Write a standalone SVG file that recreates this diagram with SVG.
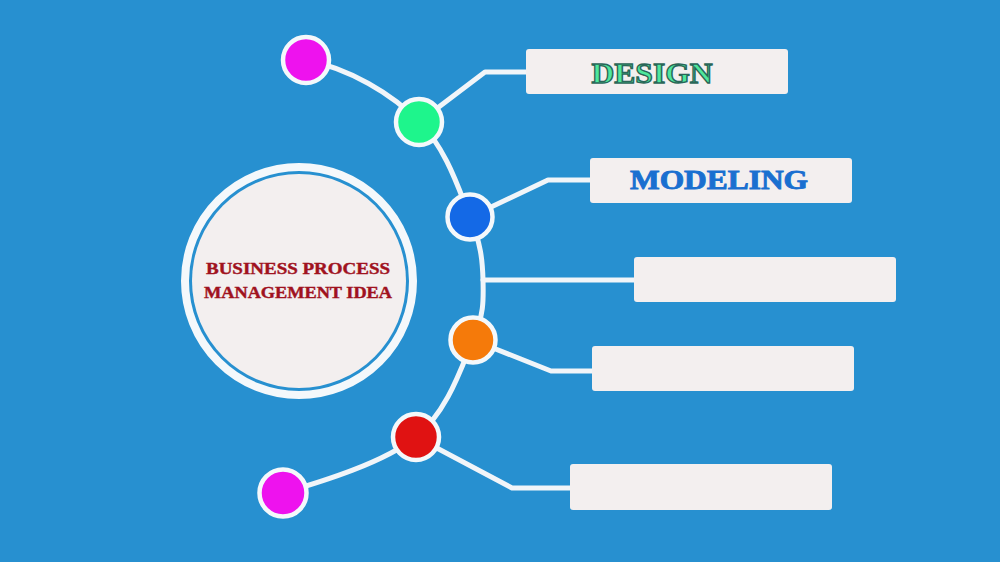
<svg xmlns="http://www.w3.org/2000/svg" width="1000" height="562" viewBox="0 0 1000 562">
<style>
.bg{fill:#2790d0}
.ln{fill:none;stroke:#f1f5f9;stroke-width:5;stroke-linejoin:round;stroke-linecap:round}
.box{fill:#f3efef}
.dot{stroke:#f4f8fb;stroke-width:4.5}
.ctext{font-family:"Liberation Serif",serif;font-weight:bold;font-size:16px;fill:#a0121e;stroke:#a0121e;stroke-width:0.4;text-anchor:middle}
.btext{font-family:"Liberation Serif",serif;font-weight:bold;text-anchor:middle}
</style>
<rect class="bg" x="0" y="0" width="1000" height="562"/>
<g id="connectors">
<path class="ln" d="M306,60 C348,68 393,94 419,122 C446.3,148.2 459.3,190.7 470,217 C480.7,243.3 482.5,259.5 483,280 C483.5,300.5 484.2,313.8 473,340 C461.8,366.2 447.7,411.5 416,437 C384.3,462.5 323,481.3 283,493"/>
<polyline class="ln" points="419,122 485,72 528,72"/>
<polyline class="ln" points="470,217 548,180 592,180"/>
<polyline class="ln" points="483,280 636,280"/>
<polyline class="ln" points="473,340 551,371 594,371"/>
<polyline class="ln" points="416,437 512,488 572,488"/>
</g>
<g id="center">
<circle cx="299" cy="281" r="114" fill="none" stroke="#f4f8fb" stroke-width="8"/>
<circle cx="299" cy="281" r="107" fill="#f3efef"/>
<text class="ctext" x="298" y="274" textLength="184" lengthAdjust="spacingAndGlyphs">BUSINESS PROCESS</text>
<text class="ctext" x="298" y="298" textLength="188" lengthAdjust="spacingAndGlyphs">MANAGEMENT IDEA</text>
</g>
<g id="node-top"><circle class="dot" cx="306" cy="60" r="23" fill="#ee12ee"/></g>
<g id="node-green"><circle class="dot" cx="419" cy="122" r="23" fill="#1ef58c"/></g>
<g id="node-blue"><circle class="dot" cx="470" cy="217" r="22.5" fill="#1469e6"/></g>
<g id="node-orange"><circle class="dot" cx="473" cy="340" r="22.5" fill="#f57a0a"/></g>
<g id="node-red"><circle class="dot" cx="416" cy="437" r="23" fill="#e01212"/></g>
<g id="node-bottom"><circle class="dot" cx="283" cy="493" r="23.5" fill="#ee12ee"/></g>
<g id="box-design">
<rect class="box" x="526" y="49" width="262" height="45" rx="3"/>
<text class="btext" x="652" y="83" font-size="29" textLength="121" lengthAdjust="spacingAndGlyphs" fill="#4ee89c" stroke="#2a6658" stroke-width="1.3">DESIGN</text>
</g>
<g id="box-modeling">
<rect class="box" x="590" y="158" width="262" height="45" rx="3"/>
<text class="btext" x="719" y="189" font-size="27" textLength="178" lengthAdjust="spacingAndGlyphs" fill="#1a6fd0" stroke="#1a6fd0" stroke-width="0.9">MODELING</text>
</g>
<g id="box-3"><rect class="box" x="634" y="257" width="262" height="45" rx="3"/></g>
<g id="box-4"><rect class="box" x="592" y="346" width="262" height="45" rx="3"/></g>
<g id="box-5"><rect class="box" x="570" y="464" width="262" height="46" rx="3"/></g>
</svg>
